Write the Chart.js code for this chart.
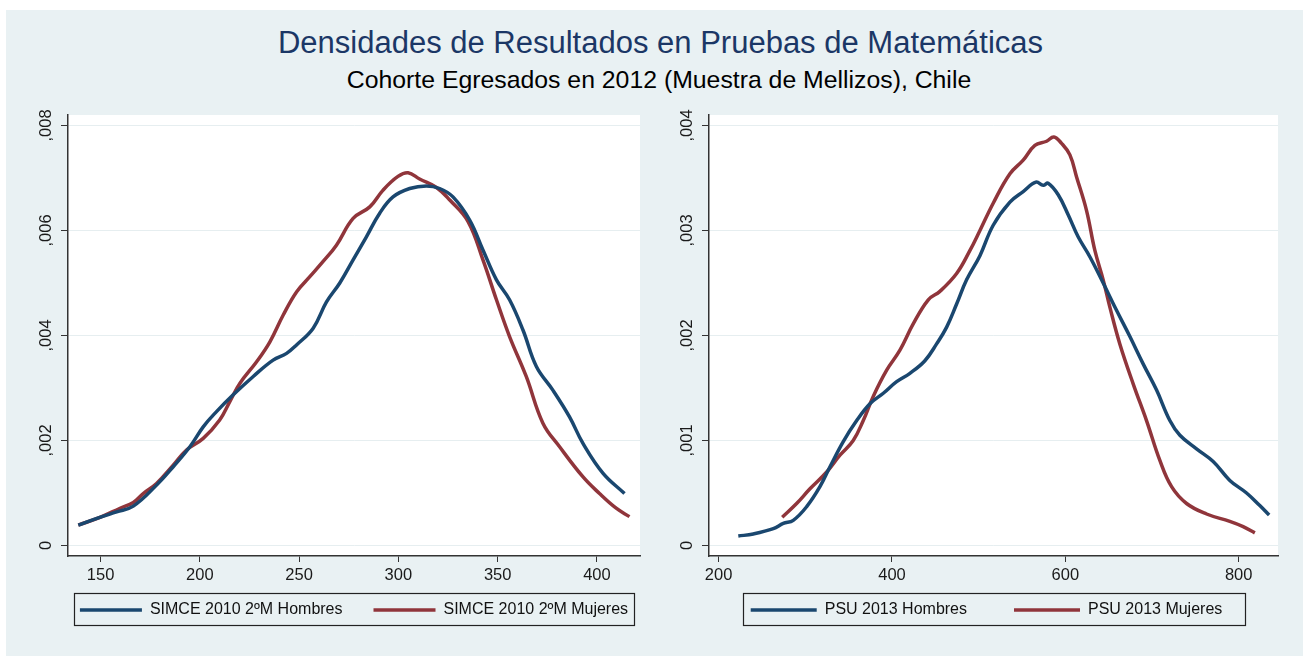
<!DOCTYPE html>
<html>
<head>
<meta charset="utf-8">
<script src="https://cdn.jsdelivr.net/npm/chart.js@4.4.1/dist/chart.umd.min.js"></script>
<style>
body{margin:0;background:#fff;width:1303px;height:656px;overflow:hidden;font-family:"Liberation Sans",Arial,sans-serif;}
#fondo{position:absolute;left:6px;top:10px;width:1297px;height:646px;background:#e9f1f3;}
#titulo{position:absolute;left:0;width:1321px;top:27px;text-align:center;font-size:31px;line-height:31px;color:#1b3766;white-space:nowrap;}
#subtitulo{position:absolute;left:0;width:1318px;top:67px;text-align:center;font-size:24.8px;line-height:25px;color:#000;white-space:nowrap;}
#graf1{position:absolute;left:6px;top:100px;}
#graf2{position:absolute;left:655px;top:100px;}
</style>
</head>
<body>
<div id="fondo"></div>
<div id="titulo">Densidades de Resultados en Pruebas de Matemáticas</div>
<div id="subtitulo">Cohorte Egresados en 2012 (Muestra de Mellizos), Chile</div>
<canvas id="graf1" width="649" height="556"></canvas>
<canvas id="graf2" width="648" height="556"></canvas>
<script>
// SIMCE 2010 2ºM (panel izquierdo)
var simceHombresX = [138.8,150,158.1,166.5,178.2,186.6,195,201.7,208.4,216.8,226.9,236.9,243.7,248.7,257.1,263.8,270.5,277.2,283.9,290.6,297.3,305.7,314.1,320.8,327.5,335.9,342.6,349.4,356,362.8,369.5,377.8,386.2,392.9,403,413.9];
var simceHombresY = [0.00039,0.00054,0.00064,0.00075,0.00115,0.0015,0.00188,0.00226,0.00255,0.00287,0.00322,0.00353,0.00366,0.00382,0.00414,0.00464,0.005,0.00544,0.00588,0.00633,0.00664,0.0068,0.00685,0.0068,0.00664,0.0062,0.00563,0.00506,0.00468,0.0041,0.00341,0.00296,0.00245,0.00195,0.00138,0.00099];
var simceMujeresX = [138.8,150,159.8,166.5,171.5,178.2,186.6,193.3,201.7,210,215.1,220.2,228.6,235.3,242,248.7,255.4,262.1,268.8,277.2,285.6,292.3,299.8,304.9,310.7,319.2,325.9,335.1,342.6,349.4,356,364.4,372.8,381.2,392.9,401.3,409.7,416.4];
var simceMujeresY = [0.00039,0.00054,0.00071,0.00082,0.00099,0.00118,0.00153,0.00182,0.00204,0.00239,0.00274,0.00309,0.0035,0.00388,0.00439,0.00483,0.00512,0.00541,0.00572,0.00623,0.00645,0.00677,0.00703,0.0071,0.00698,0.00682,0.00658,0.00617,0.00544,0.00468,0.00398,0.00322,0.00233,0.00188,0.00131,0.00099,0.00071,0.00055];
var simceTicksX = [150,200,250,300,350,400];
var simceTicksY = [0,0.002,0.004,0.006,0.008];
var simceEtiquetasY = ['0',',002',',004',',006',',008'];

// PSU 2013 (panel derecho)
var psuHombresX = [222.7,240,263.1,274.6,286.1,301.6,316.9,328.5,343.8,359.3,374.6,390,405.4,420.7,438,451.5,463.1,474.6,486.1,501.5,516.8,536.1,551.4,566.1,574.5,580.2,591.8,603.3,614.8,628.3,643.7,659.1,674.5,689.8,705.3,720.6,732.2,751.4,770.6,789.8,809.1,824.4,835.2];
var psuHombresY = [0.00009,0.00011,0.00016,0.00021,0.00024,0.00037,0.00056,0.00075,0.00099,0.00119,0.00135,0.00145,0.00156,0.00164,0.00176,0.00192,0.00208,0.0023,0.00253,0.00276,0.00305,0.00327,0.00337,0.00346,0.00343,0.00345,0.00334,0.00315,0.00294,0.00275,0.0025,0.00224,0.00199,0.00173,0.00148,0.00119,0.00105,0.00092,0.0008,0.00062,0.0005,0.00038,0.00029];
var psuMujeresX = [273.4,290,305.4,324.7,340,355.3,366.9,378.4,393.9,409.2,424.5,441.9,455.3,474.6,490,501.5,516.8,536.1,551.4,564.9,578.4,586.8,595.7,605.3,613,624.5,634.1,643.7,651.4,662.9,678.3,693.7,709.1,722.6,739.9,763,789.8,805.2,818.7];
var psuMujeresY = [0.00027,0.0004,0.00054,0.0007,0.00086,0.001,0.00119,0.00142,0.00167,0.00186,0.00211,0.00234,0.00242,0.00259,0.00281,0.003,0.00326,0.00354,0.00367,0.00381,0.00385,0.00389,0.00383,0.00372,0.00351,0.00319,0.00281,0.00253,0.00227,0.00192,0.00154,0.00119,0.00081,0.00056,0.0004,0.0003,0.00023,0.00018,0.00012];
var psuTicksX = [200,400,600,800];
var psuTicksY = [0,0.001,0.002,0.003,0.004];
var psuEtiquetasY = ['0',',001',',002',',003',',004'];

var azul = '#1a476f';
var rojo = '#90353b';
var fuente = '"Liberation Sans", Arial, sans-serif';

function puntos(xs, ys){
    return xs.map((x,i)=>({x:x, y:ys[i]}));
}

// fondo blanco del area de datos
var fondoPlot = {
    id:'fondoPlot',
    beforeDraw(chart){
        const a = chart.chartArea, c = chart.ctx;
        c.save();
        c.fillStyle = '#fff';
        c.fillRect(a.left, a.top, a.right-a.left, a.bottom-a.top);
        c.restore();
    }
};

// etiquetas del eje y giradas
var etiquetasY = {
    id:'etiquetasY',
    afterDraw(chart, args, opts){
        const s = chart.scales.y, c = chart.ctx;
        c.save();
        c.font = '16.5px ' + fuente;
        c.fillStyle = '#1a1a1a';
        c.textAlign = 'center';
        c.textBaseline = 'middle';
        s.ticks.forEach((t,i)=>{
            const y = s.getPixelForValue(t.value);
            c.save();
            c.translate(chart.chartArea.left - 22, y);
            c.rotate(-Math.PI/2);
            c.fillText(opts.etiquetas[i], 0, 0);
            c.restore();
        });
        c.restore();
    }
};

// leyenda centrada bajo el grafico con su marco
var cajaLeyenda = {
    id:'cajaLeyenda',
    afterLayout(chart, args, opts){
        const lg = chart.legend;
        const w = lg.right - lg.left, h = lg.bottom - lg.top;
        const cx = (chart.chartArea.left + chart.chartArea.right)/2 + opts.desplaza;
        lg.left = cx - w/2;
        lg.right = cx + w/2;
        lg.top = opts.centroY - lg.options.labels.padding - 8;
        lg.bottom = lg.top + h;
    },
    afterDraw(chart, args, opts){
        const lg = chart.legend, c = chart.ctx;
        const pad = lg.options.labels.padding;
        const ancho = lg.lineWidths[0] - pad;
        const x0 = (lg.left + lg.right)/2 - ancho/2;
        c.save();
        c.strokeStyle = '#222';
        c.lineWidth = 1.2;
        c.strokeRect(Math.round(x0 - opts.margen[0]) + 0.5, opts.centroY - 16.5, Math.round(ancho + opts.margen[0] + opts.margen[1]), 32);
        c.restore();
    }
};

function crearGrafico(id, d){
    const altoLeyenda = 16 + d.separacion + 10;
    return new Chart(document.getElementById(id), {
        type:'line',
        data:{
            datasets:[
                {label:d.nombres[0], data:puntos(d.x1,d.y1), borderColor:azul, backgroundColor:azul, borderWidth:3.5, pointRadius:0, tension:0.4, pointStyle:'line'},
                {label:d.nombres[1], data:puntos(d.x2,d.y2), borderColor:rojo, backgroundColor:rojo, borderWidth:3.5, pointRadius:0, tension:0.4, pointStyle:'line'}
            ]
        },
        options:{
            responsive:false,
            animation:false,
            layout:{padding:{left:0, top:15, right:d.derecha, bottom:556 - 456 - d.altoX - altoLeyenda}},
            scales:{
                x:{
                    type:'linear', min:d.minX, max:d.maxX,
                    afterBuildTicks:s=>{ s.ticks = d.ticksX.map(v=>({value:v})); },
                    afterFit:s=>{ s.height = d.altoX; },
                    grid:{drawOnChartArea:false, tickLength:6, tickColor:'#333', tickWidth:1},
                    border:{color:'#333', width:1.5},
                    ticks:{font:{family:fuente, size:16.5}, color:'#1a1a1a', padding:4, maxRotation:0, callback:v=>String(v)}
                },
                y:{
                    type:'linear', min:d.minY, max:d.maxY,
                    afterBuildTicks:s=>{ s.ticks = d.ticksY.map(v=>({value:v})); },
                    afterFit:s=>{ s.width = d.anchoY; },
                    grid:{color:'#e6eef0', lineWidth:1, tickLength:7, tickColor:'#333', tickWidth:1},
                    border:{color:'#333', width:1.5},
                    ticks:{display:false}
                }
            },
            plugins:{
                legend:{
                    position:'bottom',
                    labels:{usePointStyle:true, pointStyleWidth:d.largoLinea, padding:d.separacion, color:'#111', font:{family:fuente, size:16}}
                },
                tooltip:{enabled:false},
                etiquetasY:{etiquetas:d.etiquetasY},
                cajaLeyenda:{centroY:510, desplaza:d.desplaza, margen:d.margen}
            }
        },
        plugins:[fondoPlot, etiquetasY, cajaLeyenda]
    });
}

crearGrafico('graf1', {
    nombres:['SIMCE 2010 2ºM Hombres','SIMCE 2010 2ºM Mujeres'],
    x1:simceHombresX, y1:simceHombresY, x2:simceMujeresX, y2:simceMujeresY,
    minX:133.6, maxX:421.7, minY:-0.0002, maxY:0.0082,
    ticksX:simceTicksX, ticksY:simceTicksY, etiquetasY:simceEtiquetasY,
    anchoY:62, derecha:15, altoX:30, separacion:31, largoLinea:62, desplaza:0, margen:[6,6]
});

crearGrafico('graf2', {
    nombres:['PSU 2013 Hombres','PSU 2013 Mujeres'],
    x1:psuHombresX, y1:psuHombresY, x2:psuMujeresX, y2:psuMujeresY,
    minX:188.9, maxX:845.4, minY:-0.0001, maxY:0.0041,
    ticksX:psuTicksX, ticksY:psuTicksY, etiquetasY:psuEtiquetasY,
    anchoY:54, derecha:25, altoX:24, separacion:47, largoLinea:66, desplaza:-7, margen:[8,22]
});
</script>
</body>
</html>
